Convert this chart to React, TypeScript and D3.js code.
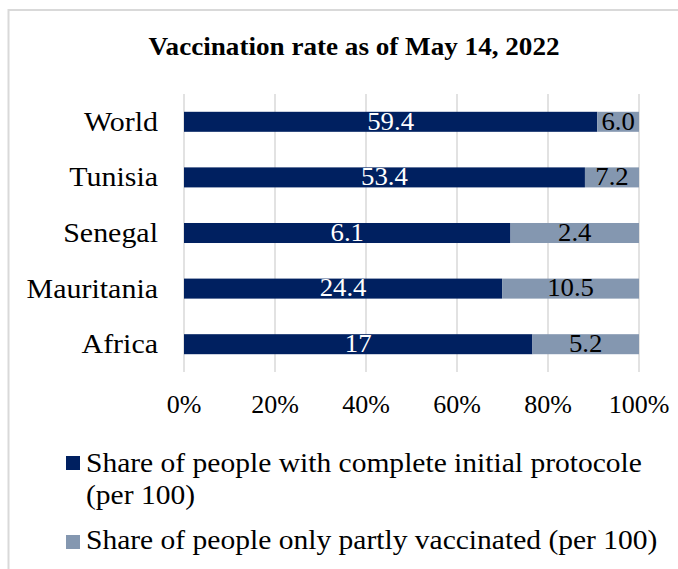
import React from "react";
import * as d3 from "d3";

const categories = ["World", "Tunisia", "Senegal", "Mauritania", "Africa"];
const completeValues = [59.4, 53.4, 6.1, 24.4, 17];
const partialValues = [6.0, 7.2, 2.4, 10.5, 5.2];
const completeLabels = ["59.4", "53.4", "6.1", "24.4", "17"];
const partialLabels = ["6.0", "7.2", "2.4", "10.5", "5.2"];
const tickValues = [0, 0.2, 0.4, 0.6, 0.8, 1];
const seriesNames = [
  "Share of people with complete initial protocole",
  "Share of people only partly vaccinated (per 100)",
];
const legendWrap = "(per 100)";
const title = "Vaccination rate as of May 14, 2022";

const W = 678;
const H = 569;
const FONT = "'Liberation Serif', 'Times New Roman', serif";
const DARK = "#002060";
const LIGHT = "#8497B0";
const GRID = "#d9d9d9";

type TProps = {
  x: number;
  y: number;
  sx?: number;
  anchor?: "start" | "middle" | "end";
  size: number;
  fill?: string;
  bold?: boolean;
  dy?: string;
  children: React.ReactNode;
};

function T({ x, y, sx = 1, anchor = "start", size, fill = "#000", bold, dy, children }: TProps) {
  return (
    <text
      transform={`translate(${x},${y}) scale(${sx},1)`}
      textAnchor={anchor}
      fontSize={size}
      fill={fill}
      fontWeight={bold ? "bold" : "normal"}
      dy={dy}
    >
      {children}
    </text>
  );
}

export default function App() {
  const x = d3.scaleLinear().domain([0, 1]).range([184, 639]);
  const y = d3
    .scaleBand<string>()
    .domain(categories)
    .range([94, 372])
    .paddingInner(0.64)
    .paddingOuter(0.32);
  const fmt = d3.format(".0%");

  const rows = categories.map((c, i) => {
    const total = completeValues[i] + partialValues[i];
    return {
      c,
      a: completeValues[i] / total,
      aLabel: completeLabels[i],
      bLabel: partialLabels[i],
    };
  });

  const bw = y.bandwidth();

  return (
    <svg
      width={W}
      height={H}
      style={{ position: "absolute", left: 0, top: 0, background: "#fff" }}
      fontFamily={FONT}
    >
      <rect x={0} y={0} width={W} height={H} fill="#fff" />
      <rect
        x={8.5}
        y={10}
        width={W + 10}
        height={H + 10}
        fill="none"
        stroke={GRID}
        strokeWidth={2}
      />
      <T x={354} y={55} anchor="middle" size={25} bold sx={1.085}>
        {title}
      </T>
      {tickValues.map((t) => (
        <line
          key={"g" + t}
          x1={x(t)}
          x2={x(t)}
          y1={94}
          y2={372}
          stroke={GRID}
          strokeWidth={1.5}
        />
      ))}
      {rows.map((r) => {
        const yy = y(r.c)!;
        const cy = yy + bw / 2;
        return (
          <g key={r.c}>
            <rect x={x(0)} y={yy} width={x(r.a) - x(0)} height={bw} fill={DARK} />
            <rect x={x(r.a)} y={yy} width={x(1) - x(r.a)} height={bw} fill={LIGHT} />
            <T x={(x(0) + x(r.a)) / 2} y={cy} dy="0.3em" anchor="middle" size={26} fill="#fff" sx={1.03}>
              {r.aLabel}
            </T>
            <T x={(x(r.a) + x(1)) / 2} y={cy} dy="0.3em" anchor="middle" size={26} sx={1.03}>
              {r.bLabel}
            </T>
            <T x={158} y={cy} dy="0.32em" anchor="end" size={28} sx={1.07}>
              {r.c}
            </T>
          </g>
        );
      })}
      {tickValues.map((t) => (
        <T key={"t" + t} x={x(t)} y={413} anchor="middle" size={26}>
          {fmt(t)}
        </T>
      ))}
      <rect x={66} y={456} width={14} height={14} fill={DARK} />
      <T x={86} y={472} size={28} sx={1.055}>
        {seriesNames[0]}
      </T>
      <T x={86} y={504} size={28} sx={1.055}>
        {legendWrap}
      </T>
      <rect x={66} y={535} width={14} height={14} fill={LIGHT} />
      <T x={86} y={549} size={28} sx={1.055}>
        {seriesNames[1]}
      </T>
    </svg>
  );
}
